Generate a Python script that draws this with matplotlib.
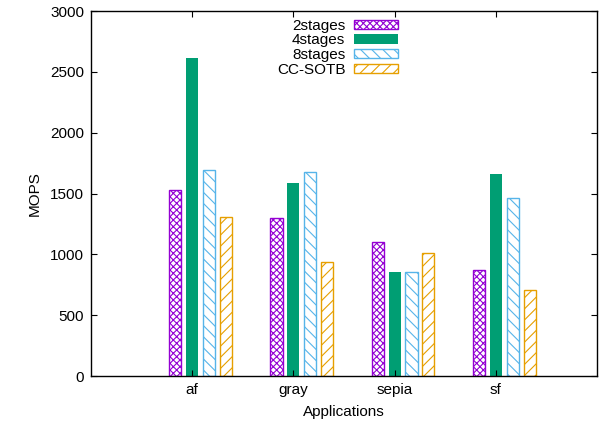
import numpy as np
import matplotlib.pyplot as plt

plt.rcParams['font.family'] = ['Liberation Sans', 'DejaVu Sans']
plt.rcParams['hatch.linewidth'] = 0.8

apps = ['af', 'gray', 'sepia', 'sf']
series = ['2stages', '4stages', '8stages', 'CC-SOTB']
stages2 = [1530, 1300, 1100, 870]
stages4 = [2610, 1585, 855, 1660]
stages8 = [1695, 1675, 855, 1460]
cc_sotb = [1310, 940, 1015, 710]

colors = ['#9400d3', '#009e73', '#56b4e9', '#e69f00']
hatches = ['xxxxx', None, '\\\\\\', '///']

fig = plt.figure(figsize=(5.99, 4.24), dpi=100)
ax = fig.add_axes([91/599, 1-376/424, 506/599, 365/424])

xdata = np.arange(1, len(apps)+1)
step = 0.167
width = 0.12
for i, vals in enumerate([stages2, stages4, stages8, cc_sotb]):
    pos = xdata + (i-1)*step
    if hatches[i] is None:
        ax.bar(pos, vals, width, color=colors[i], edgecolor=colors[i], linewidth=0, label=series[i])
    else:
        ax.bar(pos, vals, width, facecolor='white', edgecolor=colors[i], hatch=hatches[i],
               linewidth=1.0, label=series[i])

fs = 11
ax.set_xlim(0, 5)
ax.set_ylim(0, 3000)
ax.set_xticks(xdata)
ax.set_xticklabels(apps)
ax.set_yticks(np.arange(0, 3001, 500))
ax.tick_params(direction='in', top=True, right=True, labelsize=fs, length=4, pad=5)
for s in ax.spines.values():
    s.set_linewidth(1.0)
ax.set_xlabel('Applications', fontsize=fs, labelpad=6)
ax.set_ylabel('MOPS', fontsize=fs, labelpad=6)

ax.legend(loc='upper center', bbox_to_anchor=(0.487, 1.0), frameon=False, markerfirst=False,
          fontsize=fs, handlelength=2.85, handleheight=0.55, labelspacing=0.05, handletextpad=0.6,
          borderaxespad=0.1)

plt.savefig('out.png', dpi=100)
